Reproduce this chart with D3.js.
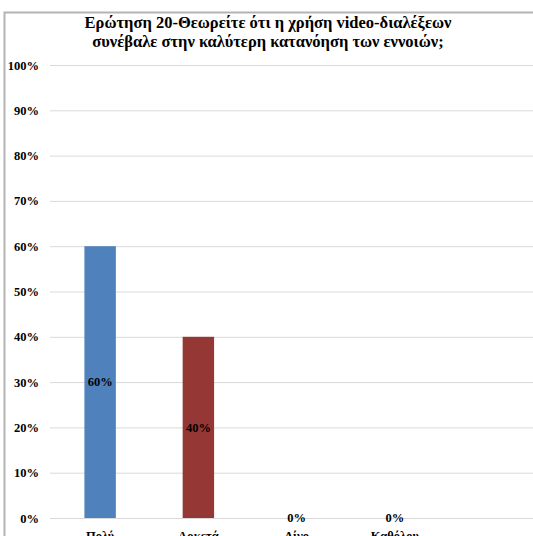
<!DOCTYPE html>
<html>
<head>
<meta charset="utf-8">
<script src="https://cdn.jsdelivr.net/npm/d3@7"></script>
<style>
  html, body { margin: 0; padding: 0; background: #ffffff; }
  svg { display: block; }
  svg text { font-family: "Liberation Serif", "Times New Roman", Tinos, "DejaVu Serif", serif; font-weight: bold; fill: #000; }
</style>
</head>
<body>
<script>
// Survey answers and the share of respondents for each
const categories = ["Πολύ", "Αρκετά", "Λίγο", "Καθόλου"];
const values = [0.60, 0.40, 0, 0];
const barColors = ["#4F81BD", "#953735", "#9BBB59", "#8064A2"];
const yTicks = [0, 0.1, 0.2, 0.3, 0.4, 0.5, 0.6, 0.7, 0.8, 0.9, 1.0];
const titleLines = [
  "Ερώτηση 20-Θεωρείτε ότι η χρήση video-διαλέξεων",
  "συνέβαλε στην καλύτερη κατανόηση των εννοιών;"
];

const W = 533, H = 536;

const svg = d3.select("body").append("svg")
  .attr("width", W).attr("height", H);

// chart frame
svg.append("rect")
  .attr("x", 4.5).attr("y", 12.5)
  .attr("width", W + 20).attr("height", H + 20)
  .attr("fill", "#ffffff")
  .attr("stroke", "#b4b4b4").attr("stroke-width", 2);

// title
svg.append("g").selectAll("text")
  .data(titleLines)
  .join("text")
  .attr("x", 268)
  .attr("y", (d, i) => 28 + i * 19)
  .attr("text-anchor", "middle")
  .attr("font-size", 16.5)
  .text(d => d);

const plotLeft = 50, plotRight = 540;
const y = d3.scaleLinear().domain([0, 1]).range([518, 65]);
const x = d3.scaleBand().domain(categories).range([51, 444]).paddingInner(0.68).paddingOuter(0.34);

// horizontal gridlines with percentage labels
const yAxis = d3.axisLeft(y)
  .tickValues(yTicks)
  .tickFormat(d3.format(".0%"))
  .tickSize(-(plotRight - plotLeft))
  .tickPadding(11);

const gy = svg.append("g")
  .attr("transform", `translate(${plotLeft},0)`)
  .call(yAxis);
gy.attr("font-family", null);
gy.select(".domain").remove();
gy.selectAll(".tick line").attr("stroke", "#d9d9d9").attr("stroke-width", 1);
gy.selectAll(".tick text").attr("font-size", 12.5).attr("fill", null);

// bars
svg.append("g").selectAll("rect")
  .data(values)
  .join("rect")
  .attr("x", (d, i) => x(categories[i]))
  .attr("y", d => y(d))
  .attr("width", x.bandwidth())
  .attr("height", d => y(0) - y(d))
  .attr("fill", (d, i) => barColors[i]);

// value labels in the middle of each bar
svg.append("g").selectAll("text")
  .data(values)
  .join("text")
  .attr("x", (d, i) => x(categories[i]) + x.bandwidth() / 2)
  .attr("y", d => y(d / 2))
  .attr("dy", "0.35em")
  .attr("text-anchor", "middle")
  .attr("font-size", 12.5)
  .text(d => d3.format(".0%")(d));

// category axis labels
const xAxis = d3.axisBottom(x).tickSize(0).tickPadding(13);
const gx = svg.append("g")
  .attr("transform", `translate(0,${y(0)})`)
  .call(xAxis);
gx.attr("font-family", null);
gx.select(".domain").remove();
gx.selectAll(".tick text").attr("font-size", 12.5).attr("fill", null);
</script>
</body>
</html>
